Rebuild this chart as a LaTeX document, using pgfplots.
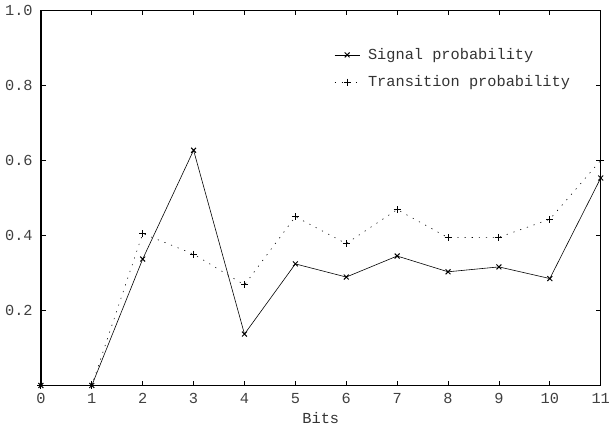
\documentclass[border=0pt]{standalone}
\usepackage{fontspec}
\setmainfont{Liberation Mono}
\usepackage{pgfplots}
\pgfplotsset{compat=1.18}
\begin{document}
\fontsize{15.5}{18}\selectfont
\begin{tikzpicture}
\begin{axis}[
    scale only axis,
    width=567pt, height=380pt,
    xmin=0, xmax=11,
    ymin=0, ymax=1,
    xtick={0,1,...,11},
    ytick={0.2,0.4,0.6,0.8,1.0},
    yticklabel style={xshift=-3pt, /pgf/number format/fixed, /pgf/number format/fixed zerofill, /pgf/number format/precision=1},
    /pgf/number format/assume math mode=true,
    tick align=inside,
    major tick length=5pt,
    tick style={black, line width=0.8pt},
    axis line style={line width=1.3pt},
    ticklabel style={font=\fontsize{15.5}{18}\selectfont, text=black!75},
    xticklabel style={yshift=-3pt},
    label style={font=\fontsize{15.5}{18}\selectfont, text=black!80},
    xlabel={Bits},
    xlabel style={yshift=2pt},
    clip=false,
    legend style={draw=none, fill=none, at={(0.965,0.91)}, anchor=north east,
        font=\fontsize{15.5}{18}\selectfont, row sep=10pt, text=black!80,
        nodes={inner xsep=8pt}},
    legend image code/.code={
        \draw[mark repeat=2, mark phase=2, #1]
            plot coordinates {(0cm,0cm) (0.45cm,0cm) (0.9cm,0cm)};
    },
    legend cell align=left,
]
\addplot[black, line width=0.6pt, mark=x, mark size=3.5pt, mark options={solid, line width=1pt}]
    coordinates {
    (0,0)(1,0)(2,0.337)(3,0.627)(4,0.137)(5,0.324)(6,0.289)(7,0.345)(8,0.303)(9,0.316)(10,0.285)(11,0.553)
    };
\addlegendentry{Signal probability}
\addplot[black, line width=0.6pt, dash pattern=on 1.2pt off 6pt, mark=+, mark size=3.5pt, mark options={solid, line width=1pt}]
    coordinates {
    (0,0)(1,0)(2,0.405)(3,0.350)(4,0.268)(5,0.450)(6,0.378)(7,0.469)(8,0.394)(9,0.395)(10,0.443)(11,0.600)
    };
\addlegendentry{Transition probability}
\end{axis}
\end{tikzpicture}
\end{document}
